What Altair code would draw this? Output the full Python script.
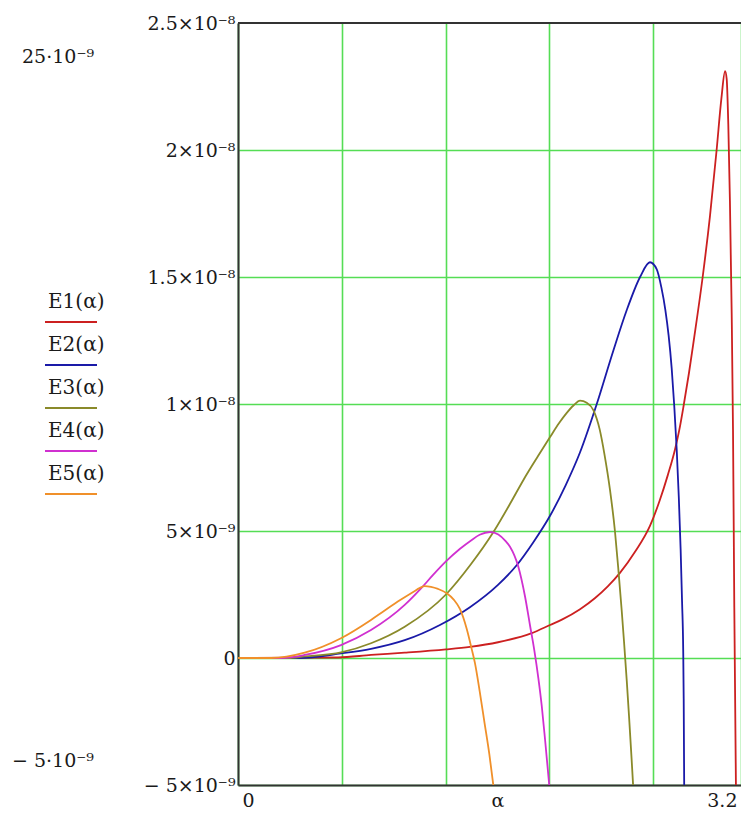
import altair as alt
import pandas as pd

# ---- data (values in units of 1e-9) ----
series_names = ["E1(α)", "E2(α)", "E3(α)", "E4(α)", "E5(α)"]
series_colors = ["#cc2020", "#1a1aa8", "#8a8a2a", "#d030d0", "#f0902a"]

E1_alpha = [0, 0.617, 0.82, 1.028, 1.282, 1.43, 1.603, 1.811, 1.924, 2.0, 2.109, 2.2, 2.28,
            2.355, 2.45, 2.54, 2.6, 2.65, 2.694, 2.72, 2.748, 2.78, 2.81, 2.865, 2.91, 2.951,
            2.98, 3.003, 3.013, 3.023, 3.033, 3.044, 3.052, 3.06, 3.07]
E1_vals = [0, 0.02, 0.12, 0.21, 0.34, 0.44, 0.62, 0.98, 1.3, 1.52, 1.92, 2.35, 2.82,
           3.35, 4.2, 5.2, 6.2, 7.2, 8.2, 8.95, 9.95, 11.2, 12.5, 15.0, 17.4, 20.0,
           22.0, 23.1, 22.8, 21.0, 18.0, 13.5, 9.0, 2.0, -5.0]

E2_alpha = [0, 0.37, 0.635, 0.82, 1.028, 1.245, 1.43, 1.603, 1.718, 1.82, 1.924, 2.02, 2.109,
            2.212, 2.314, 2.397, 2.479, 2.54, 2.582, 2.61, 2.635, 2.655, 2.674, 2.69, 2.705,
            2.718, 2.729, 2.738, 2.745, 2.748, 2.751]
E2_vals = [0, 0.0, 0.18, 0.36, 0.7, 1.3, 2.0, 2.88, 3.65, 4.55, 5.6, 6.8, 8.1,
           10.0, 12.1, 13.7, 15.0, 15.58, 15.3, 14.6, 13.7, 12.7, 11.4, 9.9, 8.2,
           6.3, 4.3, 2.2, 0.3, -1.6, -5.0]

E3_alpha = [0, 0.308, 0.411, 0.635, 0.82, 1.028, 1.282, 1.437, 1.574, 1.68, 1.759, 1.85,
            1.924, 1.98, 2.027, 2.07, 2.109, 2.15, 2.191, 2.23, 2.26, 2.294, 2.324, 2.345,
            2.366, 2.38, 2.397, 2.411, 2.427, 2.436]
E3_vals = [0, 0.0, 0.06, 0.22, 0.58, 1.23, 2.5, 3.7, 4.95, 6.1, 7.0, 7.95,
           8.7, 9.25, 9.65, 9.95, 10.13, 10.05, 9.76, 9.0, 8.0, 6.6, 5.0, 3.5,
           1.85, 0.65, -0.9, -2.3, -4.0, -5.0]

E4_alpha = [0, 0.265, 0.411, 0.635, 0.82, 1.028, 1.13, 1.2, 1.282, 1.369, 1.437, 1.49,
            1.554, 1.605, 1.65, 1.677, 1.728, 1.77, 1.8, 1.827, 1.852, 1.873, 1.893, 1.919]
E4_vals = [0, 0.0, 0.12, 0.51, 1.1, 2.09, 2.75, 3.25, 3.8, 4.3, 4.63, 4.85,
           4.96, 4.86, 4.6, 4.38, 3.6, 2.41, 1.3, 0.3, -0.8, -1.9, -3.2, -5.0]

E5_alpha = [0, 0.2035, 0.411, 0.635, 0.82, 0.9, 1.0, 1.08, 1.122, 1.151, 1.19, 1.233,
            1.287, 1.33, 1.369, 1.41, 1.441, 1.461, 1.49, 1.52, 1.55, 1.574]
E5_vals = [0, 0.0, 0.21, 0.78, 1.5, 1.85, 2.28, 2.6, 2.76, 2.83, 2.8, 2.72,
           2.55, 2.3, 1.92, 1.15, 0.35, -0.2, -1.3, -2.55, -3.8, -5.0]

# visible part of the alpha axis (the 0..3.2 axis runs slightly past the picture's right edge)
x_visible_max = 3.1013
x_tick_values = [0, 0.64, 1.28, 1.92, 2.56, x_visible_max]
x_tick_labels = ["0", "", "", "", "", "3.2"]
y_tick_values = [-5, 0, 5, 10, 15, 20, 25]
y_tick_labels = ["− 5×10⁻⁹", "0", "5×10⁻⁹", "1×10⁻⁸", "1.5×10⁻⁸", "2×10⁻⁸", "2.5×10⁻⁸"]
y_limit_texts = ["25·10⁻⁹", "− 5·10⁻⁹"]

# ---- build table ----
alphas = [E1_alpha, E2_alpha, E3_alpha, E4_alpha, E5_alpha]
vals = [E1_vals, E2_vals, E3_vals, E4_vals, E5_vals]
rows = []
for name, a_list, v_list in zip(series_names, alphas, vals):
    for a, v in zip(a_list, v_list):
        rows.append({"series": name, "alpha": a, "E": v})
df = pd.DataFrame(rows)


def label_expr(values, labels):
    parts = [f"datum.value == {v} ? '{l}'" for v, l in zip(values, labels)]
    return " : ".join(parts) + " : ''"


FONT = "DejaVu Serif"
FS = 19
LFS = 20
TXT = "#1a1a1a"
GRID = "#55dd55"
AXC = "#333333"

xscale = alt.Scale(domain=[0, x_visible_max], nice=False, zero=False)
yscale = alt.Scale(domain=[-5, 25], nice=False, zero=False)

lines = alt.Chart(df).mark_line(interpolate="monotone", strokeWidth=1.8, clip=True).encode(
    x=alt.X("alpha:Q", scale=xscale,
            axis=alt.Axis(values=x_tick_values, labelExpr=label_expr(x_tick_values, x_tick_labels),
                          title="α", titleX=259.5, titleY=21, titleAlign="center",
                          titleBaseline="alphabetic", titleFont=FONT, titleFontSize=FS,
                          titleFontWeight="normal", titleColor=TXT,
                          labelFont=FONT, labelFontSize=FS, labelColor=TXT,
                          labelFlush=True, labelFlushOffset=-4, labelPadding=6,
                          ticks=False, domainColor=AXC, domainWidth=2,
                          grid=True, gridColor=GRID, gridWidth=1.6, labelOverlap=False)),
    y=alt.Y("E:Q", scale=yscale,
            axis=alt.Axis(values=y_tick_values, labelExpr=label_expr(y_tick_values, y_tick_labels),
                          title=None, labelFont=FONT, labelFontSize=FS, labelColor=TXT,
                          labelPadding=3, ticks=False, domainColor=AXC, domainWidth=2,
                          grid=True, gridColor=GRID, gridWidth=1.6, labelOverlap=False,
                          gridOpacity={"condition": {"test": "datum.value == 25", "value": 0}, "value": 1})),
    color=alt.Color("series:N", scale=alt.Scale(domain=series_names, range=series_colors), legend=None),
)

# top border of the plot frame
top_df = pd.DataFrame({"E": [y_tick_values[-1]]})
top_border = alt.Chart(top_df).mark_rule(color=AXC, strokeWidth=2).encode(
    y=alt.Y("E:Q", scale=yscale), x=alt.value(0), x2=alt.value(503))

layers = [lines, top_border]

# legend (label above a short coloured line), Mathcad style
for i, (name, col) in enumerate(zip(series_names, series_colors)):
    ldf = pd.DataFrame({"label": [name]})
    layers.append(alt.Chart(ldf).mark_text(align="left", baseline="middle", font=FONT,
                                           fontSize=LFS, color=TXT).encode(
        x=alt.value(-190), y=alt.value(279 + 43 * i), text="label:N"))
    layers.append(alt.Chart(ldf).mark_rule(color=col, strokeWidth=1.8).encode(
        x=alt.value(-193), x2=alt.value(-141), y=alt.value(299 + 43 * i)))

# axis limit entries on the left
lim_df_top = pd.DataFrame({"t": [y_limit_texts[0]]})
lim_df_bot = pd.DataFrame({"t": [y_limit_texts[1]]})
layers.append(alt.Chart(lim_df_top).mark_text(align="left", baseline="middle", font=FONT,
                                              fontSize=FS, color=TXT).encode(
    x=alt.value(-216), y=alt.value(34), text="t:N"))
layers.append(alt.Chart(lim_df_bot).mark_text(align="left", baseline="middle", font=FONT,
                                              fontSize=FS, color=TXT).encode(
    x=alt.value(-226), y=alt.value(738), text="t:N"))

chart = alt.layer(*layers).properties(
    width=503, height=762,
    autosize=alt.AutoSizeParams(type="none"),
    padding={"left": 230, "top": 15, "right": 0, "bottom": 25},
    background="white",
).configure_view(stroke=None)

chart.save("out.html", embed_options={"renderer": "svg", "actions": False})
